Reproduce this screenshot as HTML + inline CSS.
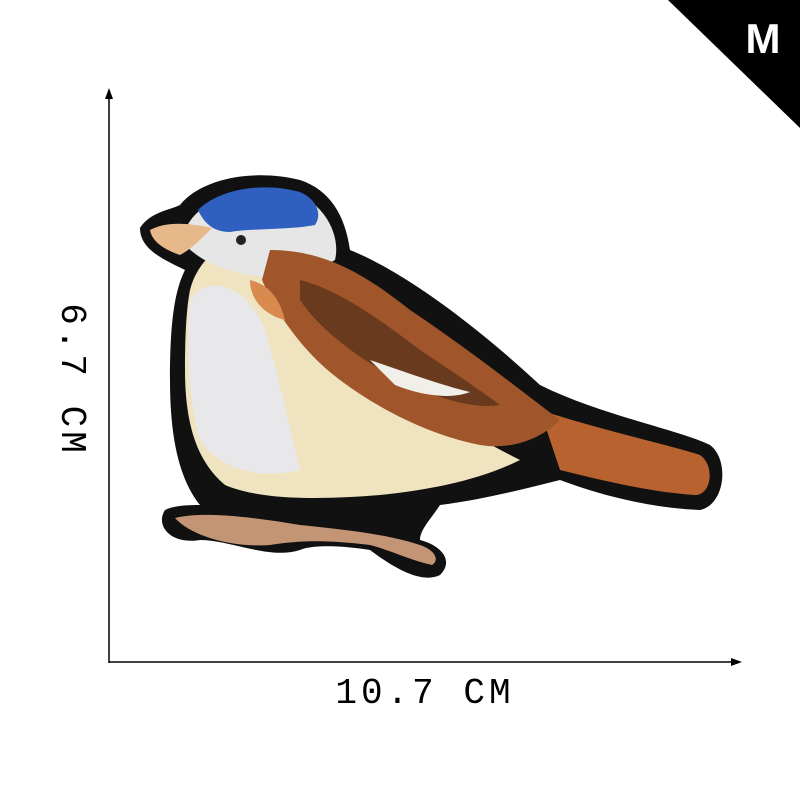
<!DOCTYPE html>
<html><head><meta charset="utf-8"><style>
html,body{margin:0;padding:0;background:#fff;}
svg{display:block}
</style></head><body>
<svg width="800" height="800" viewBox="0 0 800 800" xmlns="http://www.w3.org/2000/svg">
  <rect width="800" height="800" fill="#fff"/>
  <g>
    <polygon points="668,0 800,0 800,128" fill="#000"/>
    <text x="763" y="53" font-family="Liberation Sans, sans-serif" font-weight="bold" font-size="42" fill="#fff" text-anchor="middle">M</text>
  </g>
  <g stroke="#000" stroke-width="1.5">
    <line x1="109" y1="96" x2="109" y2="663"/>
    <polygon points="109,88 105,99 113,99" fill="#000" stroke="none"/>
  </g>
  <g stroke="#000" stroke-width="1.5">
    <line x1="109" y1="662" x2="734" y2="662"/>
    <polygon points="742,662 731,658 731,666" fill="#000" stroke="none"/>
  </g>
  <text x="425" y="703" font-family="Liberation Mono, monospace" font-size="36" text-anchor="middle" letter-spacing="4">10.7 CM</text>
  <text transform="translate(62,380) rotate(90)" font-family="Liberation Mono, monospace" font-size="36" text-anchor="middle" letter-spacing="4">6.7 CM</text>

  <g>
    <!-- black outline -->
    <path d="M140,228 C150,212 170,210 180,205 C200,180 250,168 300,180 C330,190 345,215 350,250 C400,270 470,320 540,385 C600,415 680,430 710,445 C730,460 725,505 700,510 C650,508 600,495 560,480 C520,490 480,500 440,505 C430,520 420,530 420,540 C440,545 455,560 440,575 C420,585 390,565 370,550 C340,545 310,545 300,550 C270,560 230,540 200,540 C170,545 155,525 165,510 C175,505 190,505 200,505 C180,480 170,440 170,380 C170,320 175,290 185,270 C165,260 140,250 140,228 Z" fill="#111"/>
    <!-- tail -->
    <path d="M540,410 C600,430 670,445 700,455 C715,465 712,495 695,495 C650,492 600,480 560,470 Z" fill="#b8632f"/>
    <!-- belly -->
    <path d="M190,290 C200,250 240,230 270,240 C300,270 330,330 380,380 C430,410 480,440 520,460 C480,480 430,490 380,495 C320,500 260,500 225,485 C195,460 185,420 185,370 C185,330 187,305 190,290 Z" fill="#efe3c0"/>
    <path d="M190,300 C210,270 250,290 265,330 C280,380 290,430 300,470 C260,480 220,470 200,440 C188,400 186,340 190,300 Z" fill="#e8e8ea"/>
    <!-- head -->
    <path d="M185,230 C200,195 250,185 300,195 C330,210 340,240 335,260 C310,275 280,280 250,275 C220,270 200,260 185,245 Z" fill="#e6e6e6"/>
    <path d="M198,210 C220,188 265,182 300,192 C318,200 322,215 315,225 C290,230 255,228 230,232 C215,232 205,225 198,210 Z" fill="#2f5fbf"/>
    <circle cx="241" cy="240" r="5" fill="#222"/>
    <!-- beak -->
    <path d="M150,230 C165,222 185,222 212,228 C200,240 190,250 180,255 C165,250 152,242 150,230 Z" fill="#e7b98a"/>
    <!-- wing -->
    <path d="M270,250 C320,250 360,270 410,310 C470,350 520,390 560,420 C540,440 510,450 480,445 C430,435 380,410 340,380 C300,350 275,310 262,280 Z" fill="#a0562a"/>
    <path d="M300,280 C340,290 380,320 420,350 C450,370 480,390 500,405 C470,410 430,395 400,380 C360,360 320,330 300,300 Z" fill="#6a3a1e"/>
    <path d="M370,360 C400,370 440,385 470,392 C450,400 420,395 395,385 Z" fill="#f0efe9"/>
    <path d="M250,280 C270,285 280,300 285,320 C265,315 250,300 250,280 Z" fill="#d98a4f"/>
    <!-- branch -->
    <path d="M175,518 C200,512 240,515 300,525 C350,530 390,535 420,545 C435,550 440,560 432,565 C410,560 390,550 370,545 C330,540 300,540 270,545 C230,548 190,535 175,518 Z" fill="#c49574"/>
  </g>
</svg>
</body></html>
